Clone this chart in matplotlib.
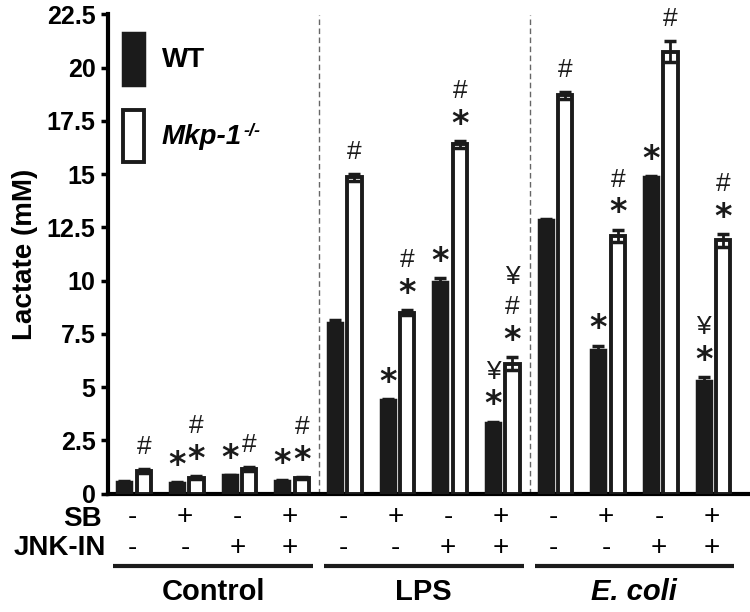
import numpy as np
import matplotlib
matplotlib.use("Agg")
import matplotlib.pyplot as plt
from matplotlib.patches import Patch

plt.rcParams['font.family'] = ['Liberation Sans', 'DejaVu Sans']

# --- data ---
groups = ['Control', 'LPS', 'E. coli']
sb = ['-', '+', '-', '+'] * 3
jnk = ['-', '-', '+', '+'] * 3

wt = [0.55, 0.5, 0.85, 0.6, 8.0, 4.4, 9.95, 3.3, 12.85, 6.75, 14.85, 5.3]
wt_err = [0.03, 0.03, 0.03, 0.03, 0.15, 0.05, 0.15, 0.08, 0.05, 0.2, 0.05, 0.15]
ko = [1.05, 0.75, 1.15, 0.72, 14.85, 8.5, 16.4, 6.1, 18.7, 12.1, 20.75, 11.9]
ko_err = [0.1, 0.07, 0.1, 0.05, 0.15, 0.1, 0.15, 0.3, 0.15, 0.3, 0.5, 0.3]

# significance symbols, bottom to top
wt_sig = ['', '*', '*', '*', '', '*', '*', '*¥', '', '*', '*', '*¥']
ko_sig = ['#', '*#', '#', '*#', '#', '*#', '*#', '*#¥', '#', '*#', '#', '*#']

dark = '#1b1b1b'
x = np.arange(len(wt))
w = 0.27

fig = plt.figure(figsize=(7.5, 6.12), dpi=100)
ax = fig.add_axes([108 / 750, 1 - 493.5 / 612, 1 - 108 / 750, 479 / 612])

ax.bar(x - 0.15, wt, w, color=dark, edgecolor=dark, linewidth=2.5, zorder=3)
ax.bar(x + 0.22, ko, w, color='white', edgecolor=dark, linewidth=2.8, zorder=3)
ax.errorbar(x - 0.15, wt, yerr=wt_err, fmt='none', ecolor=dark, elinewidth=2,
            capsize=4.5, capthick=2.5, zorder=4)
ax.errorbar(x + 0.22, ko, yerr=ko_err, fmt='none', ecolor=dark, elinewidth=2,
            capsize=4.5, capthick=2.5, zorder=4)

# significance marks stacked above bars
def put_marks(xs, tops, marks):
    for xi, top, m in zip(xs, tops, marks):
        off = 12
        for ch in m:
            if ch == '*':
                ax.annotate('*', (xi, top), xytext=(0, off), textcoords='offset points',
                            ha='center', va='center', fontsize=24, fontweight='bold',
                            family='DejaVu Sans', color=dark)
                off += 20
            else:
                ax.annotate(ch, (xi, top), xytext=(0, off + 4), textcoords='offset points',
                            ha='center', va='center', fontsize=19, color=dark)
                off += 22

put_marks(x - 0.15, np.array(wt) + np.array(wt_err), wt_sig)
put_marks(x + 0.22, np.array(ko) + np.array(ko_err), ko_sig)

# group separators
for xs in (3.55, 7.55):
    ax.axvline(xs, color='#666666', lw=1, ls=(0, (4, 2.5)), zorder=1)

ax.set_xlim(-0.46, 11.73)
ax.set_ylim(0, 22.5)
ticks = np.arange(0, 22.6, 2.5)
ax.set_yticks(ticks)
ax.set_yticklabels(['0', '2.5', '5', '7.5', '10', '12.5', '15', '17.5', '20', '22.5'],
                   fontsize=18, fontweight='bold')
ax.set_xticks([])
ax.tick_params(axis='y', direction='out', length=5, width=2.5, pad=4)
ax.spines['top'].set_visible(False)
ax.spines['right'].set_visible(False)
ax.spines['left'].set_linewidth(3)
ax.spines['bottom'].set_linewidth(3)
ax.set_ylabel('Lactate (mM)', fontsize=20, fontweight='bold', labelpad=6)

# treatment rows
tr = ax.get_xaxis_transform()
for xi, s, j in zip(x, sb, jnk):
    ax.text(xi, -0.05, s, transform=tr, ha='center', va='center', fontsize=20)
    ax.text(xi, -0.113, j, transform=tr, ha='center', va='center', fontsize=20)
ax.text(-0.58, -0.054, 'SB', transform=tr, ha='right', va='center', fontsize=20, fontweight='bold')
ax.text(-0.5, -0.113, 'JNK-IN', transform=tr, ha='right', va='center', fontsize=20, fontweight='bold')

for gi, name in enumerate(groups):
    x0, x1 = gi * 4 - 0.36, gi * 4 + 3 + 0.43
    ax.plot([x0, x1], [-0.152, -0.152], transform=tr, color=dark, lw=3,
            clip_on=False, solid_capstyle='butt')
    ax.text((x0 + x1) / 2, -0.205, name, transform=tr, ha='center', va='center',
            fontsize=21, fontweight='bold', fontstyle='italic' if gi == 2 else 'normal')

handles = [Patch(facecolor=dark, edgecolor=dark, lw=2.5),
           Patch(facecolor='white', edgecolor=dark, lw=2.8)]
leg = ax.legend(handles, ['WT', 'Mkp-1'], loc='upper left',
                bbox_to_anchor=(0.023, 0.962), frameon=False, handlelength=0.75,
                handleheight=2.5, labelspacing=0.9, handletextpad=0.65,
                borderpad=0, borderaxespad=0, prop={'size': 20, 'weight': 'bold'})
ko_txt = leg.get_texts()[1]
ko_txt.set_fontstyle('italic')
# superscript drawn after the legend so its position is known
ax.annotate('-/-', xy=(1, 1), xycoords=ko_txt, xytext=(1, 1), textcoords='offset points',
            ha='left', va='top', fontsize=13, fontweight='bold', fontstyle='italic',
            zorder=6)

fig.savefig('out.png', dpi=100)
